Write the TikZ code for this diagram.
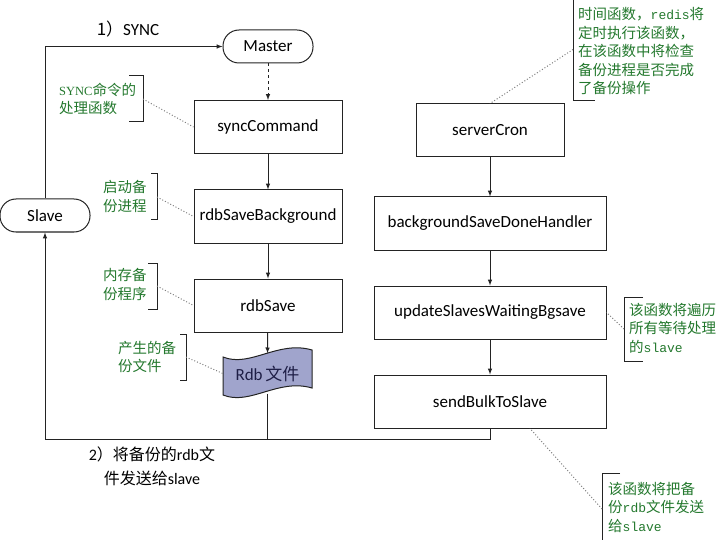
\documentclass[tikz,border=0pt]{standalone}
\usepackage{fontspec}
\setmainfont{Carlito}
\newfontfamily\zh{Noto Sans CJK SC}
\newfontfamily\annserif{Liberation Serif}
\newfontfamily\annmono{Liberation Mono}
\usetikzlibrary{calc}
\definecolor{notegreen}{RGB}{35,120,45}
\definecolor{rdbblue}{RGB}{160,164,204}
\definecolor{linegray}{RGB}{35,35,35}
\newcommand{\tikzBracket}[5]{
  \draw[bracket] ({#2+(#5)},#3) -- (#2,#3) -- (#2,#4) -- ({#2+(#5)},#4);
  \coordinate (#1) at (#2,{(#3+#4)/2});
}
\newcommand{\latin}[1]{{\annmono\fontsize{13}{18.5}\selectfont #1}}

\begin{document}
\begin{tikzpicture}[x=1pt,y=-1pt,>=latex,
  box/.style={draw=linegray,line width=1pt,rectangle,inner sep=2pt,minimum height=53pt,font=\fontsize{17}{20}\selectfont},
  term/.style={draw=linegray,line width=1pt,rectangle,rounded corners=16pt,minimum width=90pt,minimum height=33pt,font=\fontsize{17}{20}\selectfont},
  flow/.style={draw=linegray,line width=1pt,->},
  note/.style={text=notegreen,align=left,anchor=west,inner sep=0pt,font=\zh\fontsize{14.5}{18.5}\selectfont},
  bracket/.style={draw=linegray,line width=1pt},
  hint/.style={draw=gray,dotted,line width=1pt}]

  \useasboundingbox (0,0) rectangle (720,540);

  % Master side
  \node [term] (master) at (268,46.5) {Master};
  \node [term] (slave)  at (45,215.5) {Slave};
  \node [box,minimum width=148pt] (sync) at (268,127)   {syncCommand};
  \node [box,minimum width=148pt] (rbg)  at (268,216.5) {rdbSaveBackground};
  \node [box,minimum width=148pt] (rs)   at (268,305.5) {rdbSave};

  \path [draw=linegray,line width=1pt,fill=rdbblue] (223,357) .. controls (250,368) and (278,340) .. (312,350)
    -- (312,388) .. controls (278,378) and (250,406) .. (223,395) -- cycle;
  \node [inner sep=0pt,minimum width=89pt,minimum height=40pt,text={rgb,255:red,30;green,30;blue,70},font=\fontsize{17}{20}\selectfont] (rdb) at (267.5,373.5) {Rdb\,{\zh 文件}};

  % timer side
  \node [box,minimum width=148pt] (cron)   at (490,130.5) {serverCron};
  \node [box,minimum width=232pt] (bgdone) at (490,223.5) {backgroundSaveDoneHandler};
  \node [box,minimum width=232pt] (upd)    at (490,312.5) {updateSlavesWaitingBgsave};
  \node [box,minimum width=232pt] (send)   at (490,401.5) {sendBulkToSlave};

  \path [flow] (slave.north) |- (master.west);
  \path [flow,dashed] (master.south) -- (sync.north);
  \path [flow] (sync) -- (rbg);
  \path [flow] (rbg) -- (rs);
  \path [flow] (rs) -- (rdb.north);
  \path [flow] (cron) -- (bgdone);
  \path [flow] (bgdone) -- (upd);
  \path [flow] (upd) -- (send);

  \coordinate (back) at (490,439);
  \path [flow] (send.south) -- (back) -| (slave.south);
  \draw [linegray,line width=1pt] (rdb.south) -- (rdb.south |- back);

  \node [font=\fontsize{17}{20}\selectfont] (synclabel) at (128,29) {{\zh 1）}SYNC};
  \node [align=center,font=\fontsize{16}{24}\selectfont] (sendlabel) at (152,466)
    {2{\zh）将备份的}rdb{\zh 文}\\{\zh 件发送给}slave};

  % notes
  \node [note] (n1) at (59,99)    {{\annserif\fontsize{12.5}{18.5}\selectfont SYNC}命令的\\处理函数};
  \node [note] (n2) at (103,196.5) {启动备\\份进程};
  \node [note] (n3) at (103,284.5) {内存备\\份程序};
  \node [note] (n4) at (118,357)   {产生的备\\份文件};
  \node [note] (n5) at (578,51)    {时间函数，\latin{redis}将\\定时执行该函数，\\在该函数中将检查\\备份进程是否完成\\了备份操作};
  \node [note] (n6) at (629,328)   {该函数将遍历\\所有等待处理\\的\latin{slave}};
  \node [note] (n7) at (608,507)   {该函数将把备\\份\latin{rdb}文件发送\\给\latin{slave}};

  \tikzBracket{b1}{143}{76}{122}{-14}
  \tikzBracket{b2}{157}{174}{220}{-6}
  \tikzBracket{b3}{157}{263}{309}{-9}
  \tikzBracket{b4}{186}{334}{380}{-6}
  \tikzBracket{b5}{573}{-2}{101}{22}
  \tikzBracket{b6}{624}{297}{361}{19}
  \tikzBracket{b7}{602}{473}{545}{18}

  \draw [hint] (b1) -- (sync.west);
  \draw [hint] (b2) -- (rbg.west);
  \draw [hint] (b3) -- (rs.west);
  \draw [hint] (b4) -- (rdb.west);
  \draw [hint] (b5) -- (cron.north);
  \draw [hint] (b6) -- (upd.east);
  \draw [hint] (b7) -- ($(send.south)+(40,0)$);

\end{tikzpicture}
\end{document}
